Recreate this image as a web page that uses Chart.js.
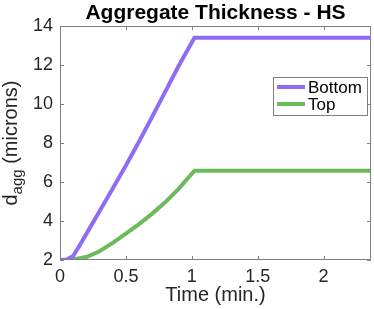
<!DOCTYPE html>
<html>
<head>
<meta charset="utf-8">
<script src="https://cdn.jsdelivr.net/npm/chart.js@4"></script>
<style>
  html, body { margin: 0; padding: 0; background: #fff; }
  #wrap { width: 374px; height: 309px; }
</style>
</head>
<body>
<div id="wrap"><canvas id="myChart" width="374" height="309"></canvas></div>
<script>
// data
const times = [0, 0.05, 0.1, 0.15, 0.2, 0.3, 0.4, 0.5, 0.6, 0.7, 0.8, 0.9, 1.02, 1.5, 2.0, 2.36];
const bottomVals = [2.0, 2.02, 2.2, 2.76, 3.34, 4.5, 5.67, 6.85, 8.08, 9.35, 10.65, 11.95, 13.4, 13.4, 13.4, 13.4];
const topVals = [2.0, 2.01, 2.04, 2.09, 2.15, 2.45, 2.88, 3.35, 3.84, 4.38, 4.97, 5.65, 6.58, 6.58, 6.58, 6.58];
const seriesNames = ['Bottom', 'Top'];
const seriesColors = ['#8f6cf6', '#6cba5c'];
const xTicks = [0, 0.5, 1, 1.5, 2];
const yTicks = [2, 4, 6, 8, 10, 12, 14];
const titleText = 'Aggregate Thickness - HS';
const xLabel = 'Time (min.)';

const FONT = '"Liberation Sans", Arial, Helvetica, sans-serif';
const AXIS = '#808080';

function toPoints(xs, ys) {
    let pts = [];
    for (let i = 0; i < xs.length; i++) {
        pts.push({x: xs[i], y: ys[i]});
    }
    return pts;
}

// box, inward ticks, title, axis labels and legend
const decorations = {
    id: 'decorations',
    afterDraw(chart) {
        let ctx = chart.ctx;
        let a = chart.chartArea;
        let xs = chart.scales.x;
        let ys = chart.scales.y;
        ctx.save();
        ctx.strokeStyle = AXIS;
        ctx.lineWidth = 1;
        ctx.beginPath();
        ctx.rect(a.left + 0.5, a.top + 0.5, a.right - a.left - 1, a.bottom - a.top - 1);
        ctx.stroke();
        let tl = 4;
        ctx.beginPath();
        xTicks.forEach(v => {
            let px = Math.round(xs.getPixelForValue(v)) + 0.5;
            ctx.moveTo(px, a.bottom); ctx.lineTo(px, a.bottom - tl);
            ctx.moveTo(px, a.top); ctx.lineTo(px, a.top + tl);
        });
        yTicks.forEach(v => {
            let py = Math.round(ys.getPixelForValue(v)) + 0.5;
            ctx.moveTo(a.left, py); ctx.lineTo(a.left + tl, py);
            ctx.moveTo(a.right, py); ctx.lineTo(a.right - tl, py);
        });
        ctx.stroke();

        // title
        let cx = (a.left + a.right) / 2;
        ctx.fillStyle = '#000';
        ctx.font = 'bold 21px ' + FONT;
        ctx.textAlign = 'center';
        ctx.textBaseline = 'alphabetic';
        ctx.fillText(titleText, cx, 19);

        // x label
        ctx.fillStyle = '#262626';
        ctx.font = '20px ' + FONT;
        ctx.fillText(xLabel, cx, 301);

        // y label with subscript
        ctx.save();
        ctx.translate(17, (a.top + a.bottom) / 2);
        ctx.rotate(-Math.PI / 2);
        let big = '20px ' + FONT, small = '15px ' + FONT;
        ctx.font = big; let wd = ctx.measureText('d').width;
        ctx.font = small; let ws = ctx.measureText('agg').width;
        ctx.font = big; let wr = ctx.measureText(' (microns)').width;
        let x0 = -(wd + ws + wr) / 2;
        ctx.textAlign = 'left';
        ctx.font = big; ctx.fillText('d', x0, 0);
        ctx.font = small; ctx.fillText('agg', x0 + wd, 5);
        ctx.font = big; ctx.fillText(' (microns)', x0 + wd + ws, 0);
        ctx.restore();

        // legend
        let lx = 273, ly = 77, lw = 94, lh = 38;
        ctx.fillStyle = '#fff';
        ctx.fillRect(lx, ly, lw, lh);
        ctx.strokeStyle = AXIS;
        ctx.lineWidth = 1;
        ctx.strokeRect(lx + 0.5, ly + 0.5, lw, lh);
        ctx.font = '17px ' + FONT;
        ctx.textAlign = 'left';
        chart.data.datasets.forEach((ds, i) => {
            let yy = ly + 10 + i * 17;
            ctx.strokeStyle = ds.borderColor;
            ctx.lineWidth = 4;
            ctx.beginPath();
            ctx.moveTo(lx + 4, yy); ctx.lineTo(lx + 32, yy);
            ctx.stroke();
            ctx.fillStyle = '#000';
            ctx.fillText(ds.label, lx + 35, yy + 6);
        });
        ctx.restore();
    }
};

function drawChart() {
    let ctx = document.getElementById('myChart').getContext('2d');
    let config = {
        type: 'line',
        data: {
            datasets: [{
                label: seriesNames[0],
                data: toPoints(times, bottomVals),
                borderColor: seriesColors[0],
                borderWidth: 4,
                pointRadius: 0,
                tension: 0
            }, {
                label: seriesNames[1],
                data: toPoints(times, topVals),
                borderColor: seriesColors[1],
                borderWidth: 4,
                pointRadius: 0,
                tension: 0
            }]
        },
        options: {
            responsive: false,
            animation: false,
            layout: { padding: { left: 0, right: 3, top: 26, bottom: 0 } },
            plugins: {
                legend: { display: false },
                tooltip: { enabled: false }
            },
            scales: {
                x: {
                    type: 'linear',
                    min: 0,
                    max: 2.36,
                    grid: { display: false, drawTicks: false },
                    border: { display: false },
                    afterFit: s => { s.height = 49; },
                    afterBuildTicks: s => { s.ticks = xTicks.map(v => ({value: v})); },
                    ticks: {
                        padding: 6,
                        color: '#262626',
                        font: { family: FONT, size: 18 },
                        maxRotation: 0,
                        callback: v => String(v)
                    }
                },
                y: {
                    min: 2,
                    max: 14,
                    grid: { display: false, drawTicks: false },
                    border: { display: false },
                    afterFit: s => { s.width = 60; },
                    afterBuildTicks: s => { s.ticks = yTicks.map(v => ({value: v})); },
                    ticks: {
                        padding: 7,
                        color: '#262626',
                        font: { family: FONT, size: 18 },
                        callback: v => String(v)
                    }
                }
            }
        },
        plugins: [decorations]
    };
    new Chart(ctx, config);
}

drawChart();
</script>
</body>
</html>
